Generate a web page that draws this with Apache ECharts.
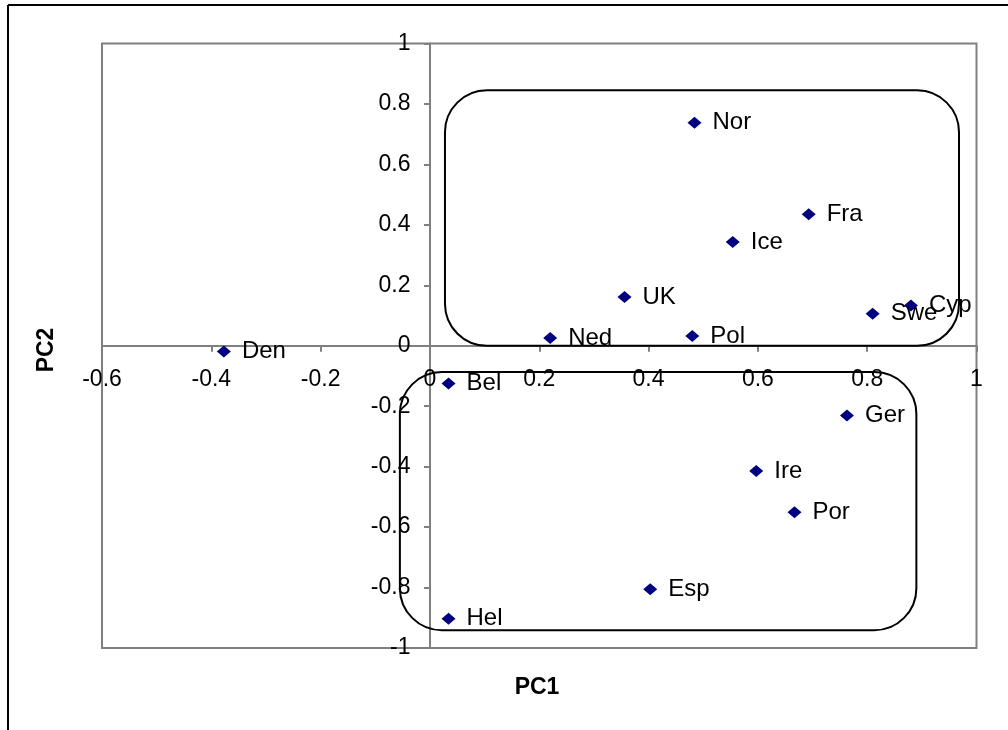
<!DOCTYPE html>
<html>
<head>
<meta charset="utf-8">
<script src="https://cdn.jsdelivr.net/npm/echarts@6/dist/echarts.min.js"></script>
<style>
html,body{margin:0;padding:0;background:#fff;}
#chart{width:1008px;height:730px;}
</style>
</head>
<body>
<div id="chart"></div>
<script>
// Data
var countries = ['Nor','Fra','Ice','UK','Ned','Pol','Swe','Cyp','Den','Bel','Ger','Ire','Por','Esp','Hel'];
var pc1 = [0.484, 0.693, 0.554, 0.356, 0.220, 0.480, 0.810, 0.880, -0.377, 0.034, 0.763, 0.597, 0.667, 0.403, 0.034];
var pc2 = [0.738, 0.435, 0.343, 0.161, 0.026, 0.032, 0.106, 0.133, -0.019, -0.125, -0.231, -0.414, -0.551, -0.806, -0.903];
var xTicks = [-0.6, -0.4, -0.2, 0, 0.2, 0.4, 0.6, 0.8, 1];
var yTicks = [-1, -0.8, -0.6, -0.4, -0.2, 0, 0.2, 0.4, 0.6, 0.8, 1];
// cluster boxes in data units: [x1, y1, x2, y2]
var boxUpper = [0.0275, 0.845, 0.968, 0.0];
var boxLower = [-0.055, -0.087, 0.890, -0.941];

var points = countries.map(function(c, i){ return {name: c, value: [pc1[i], pc2[i]]}; });
var fmt = function(v){ return String(Math.round(v*10)/10); };
var xTickData = xTicks.map(function(v){ return {name: fmt(v), value: [v, 0]}; });
var yTickData = yTicks.map(function(v){ return {name: fmt(v), value: [0, v]}; });

var chart = echarts.init(document.getElementById('chart'), null, {renderer: 'canvas'});
var font = 'Liberation Sans, Arial, sans-serif';
chart.setOption({
  animation: false,
  backgroundColor: '#fff',
  grid: {left: 102, right: 31.5, top: 43.5, bottom: 82, show: true, borderColor: '#808080', borderWidth: 2, backgroundColor: 'transparent'},
  xAxis: {
    type: 'value', min: xTicks[0], max: xTicks[xTicks.length-1], interval: 0.2,
    axisLine: {onZero: true, lineStyle: {color: '#808080', width: 2}},
    axisTick: {show: true, length: 6, lineStyle: {color: '#808080', width: 2}},
    splitLine: {show: false},
    axisLabel: {show: false}
  },
  yAxis: {
    type: 'value', min: yTicks[0], max: yTicks[yTicks.length-1], interval: 0.2,
    axisLine: {onZero: true, lineStyle: {color: '#808080', width: 2}},
    axisTick: {show: true, length: 6, lineStyle: {color: '#808080', width: 2}},
    splitLine: {show: false},
    axisLabel: {show: false}
  },
  series: [{
    type: 'scatter',
    data: points,
    symbol: 'diamond',
    symbolSize: [14, 12],
    itemStyle: {color: '#000080', opacity: 1},
    label: {show: true, position: 'right', distance: 11, formatter: '{b}', color: '#000', fontFamily: font, fontSize: 24},
    emphasis: {disabled: true},
    z: 5
  }, {
    type: 'scatter', silent: true,
    data: xTickData, symbolSize: 1,
    itemStyle: {color: 'rgba(0,0,0,0)', opacity: 1},
    label: {show: true, position: 'bottom', distance: 22, formatter: '{b}', color: '#000', fontFamily: font, fontSize: 23},
    emphasis: {disabled: true},
    z: 4
  }, {
    type: 'scatter', silent: true,
    data: yTickData, symbolSize: 1,
    itemStyle: {color: 'rgba(0,0,0,0)', opacity: 1},
    label: {show: true, position: 'left', distance: 19, formatter: '{b}', color: '#000', fontFamily: font, fontSize: 23},
    emphasis: {disabled: true},
    z: 4
  }]
});

function boxRect(b){
  var p1 = chart.convertToPixel({gridIndex: 0}, [b[0], b[1]]);
  var p2 = chart.convertToPixel({gridIndex: 0}, [b[2], b[3]]);
  return {x: Math.min(p1[0],p2[0]), y: Math.min(p1[1],p2[1]), width: Math.abs(p2[0]-p1[0]), height: Math.abs(p2[1]-p1[1]), r: 42};
}

chart.setOption({
  graphic: [
    {type: 'line', shape: {x1: 8, y1: 5, x2: 1008, y2: 5}, style: {stroke: '#000', lineWidth: 2}},
    {type: 'line', shape: {x1: 8, y1: 5, x2: 8, y2: 730}, style: {stroke: '#000', lineWidth: 2}},
    {type: 'rect', shape: boxRect(boxUpper), style: {fill: null, stroke: '#000', lineWidth: 2}, z: 3},
    {type: 'rect', shape: boxRect(boxLower), style: {fill: null, stroke: '#000', lineWidth: 2}, z: 3},
    {type: 'text', x: 537, y: 688, style: {text: 'PC1', fontFamily: font, fontSize: 23, fontWeight: 'bold', fill: '#000', align: 'center', verticalAlign: 'middle'}},
    {type: 'text', x: 47, y: 350, rotation: Math.PI/2, style: {text: 'PC2', fontFamily: font, fontSize: 23, fontWeight: 'bold', fill: '#000', align: 'center', verticalAlign: 'middle'}}
  ]
});
</script>
</body>
</html>
